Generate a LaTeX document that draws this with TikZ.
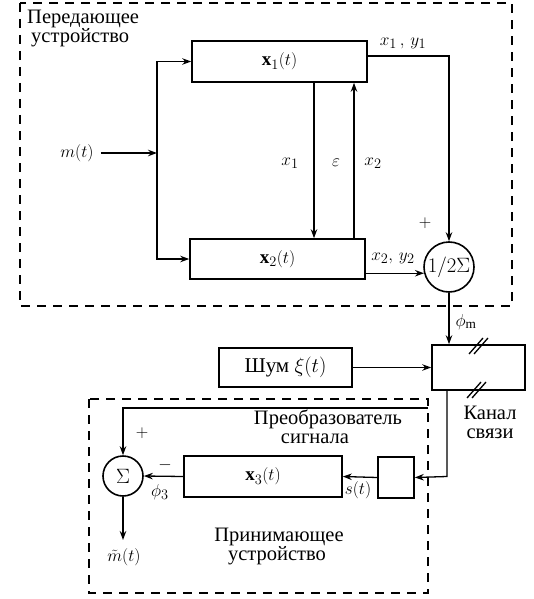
\documentclass[tikz,border=0pt]{standalone}
\usepackage{fontspec}
\setmainfont{Liberation Serif}
\usetikzlibrary{arrows.meta,calc}
\begin{document}
\begin{tikzpicture}[x=1pt,y=-1pt,
  every node/.style={font=\fontsize{19}{21}\selectfont},
  blk/.style={draw,line width=1.6pt,inner sep=0pt},
  circ/.style={draw,circle,line width=1.6pt,inner sep=0pt},
  arr/.style={line width=1.3pt,-{Stealth[length=9pt,width=6.5pt]}},
  ln/.style={line width=1.3pt},
  dashbox/.style={line width=1.2pt,dash pattern=on 9pt off 7pt},
  lbl/.style={inner sep=0pt},
  cyr/.style={inner sep=0pt,font=\fontsize{20.5}{21}\selectfont,text height=11pt,text depth=3pt}]
\useasboundingbox (0,0) rectangle (533,599);
% dashed frames
\draw[dashbox] (20,3) rectangle (512,306);
\draw[dashbox] (89,399) rectangle (428,593);
% blocks
\node[blk,minimum width=175pt,minimum height=41pt] (x1) at (279.5,61.5) {$\mathbf{x}_1(t)$};
\node[blk,minimum width=175pt,minimum height=40pt] (x2) at (277.5,259) {$\mathbf{x}_2(t)$};
\node[circ,minimum size=50pt,font=\fontsize{21}{21}\selectfont] (sum) at (449,267) {$1/2\Sigma$};
\node[blk,minimum width=93pt,minimum height=45pt] (chan) at (478.5,367.5) {};
\node[blk,minimum width=133pt,minimum height=39pt,font=\fontsize{21}{21}\selectfont] (noise) at (285.5,367.5) {Шум $\xi(t)$};
\node[circ,minimum size=40pt,font=\fontsize{21}{21}\selectfont] (sig) at (123,476) {$\Sigma$};
\node[blk,minimum width=158pt,minimum height=41pt] (x3) at (263,476.5) {$\mathbf{x}_3(t)$};
\node[blk,minimum width=36pt,minimum height=41pt] (small) at (396,477.5) {};
% texts
\node[cyr,anchor=base west] (t1) at (27,24) {Передающее};
\node[cyr,anchor=base west] (t2) at (31,43) {устройство};
\node[lbl] (mt) at (77,153) {$m(t)$};
\node[lbl] (lx1y1) at (403,43) {$x_1\,,\,y_1$};
\node[lbl] (lx1) at (290,163) {$x_1$};
\node[lbl] (leps) at (336,163) {$\varepsilon$};
\node[lbl] (lx2) at (373,163) {$x_2$};
\node[lbl] (lplus1) at (425,223) {$+$};
\node[lbl] (lx2y2) at (393,258) {$x_2,\,y_2$};
\node[lbl] (lphim) at (466,322) {$\phi_{\mathrm{m}}$};
\node[cyr,anchor=base] (lk1) at (490,419) {Канал};
\node[cyr,anchor=base] (lk2) at (490,438) {связи};
\node[cyr,anchor=base] (lp1) at (328,424) {Преобразователь};
\node[cyr,anchor=base] (lp2) at (315,443) {сигнала};
\node[lbl] (lplus2) at (142,433) {$+$};
\node[lbl] (lminus) at (165,465) {$-$};
\node[lbl] (lphi3) at (160,492) {$\phi_3$};
\node[lbl] (lst) at (358,490) {$s(t)$};
\node[lbl] (lmt) at (124,557) {$\tilde{m}(t)$};
\node[cyr,anchor=base] (lr1) at (279,541) {Принимающее};
\node[cyr,anchor=base] (lr2) at (277,560) {устройство};
% coordinates
\coordinate (split) at (157,153);
\coordinate (a1) at (314,0);
\coordinate (a2) at (354,0);
\coordinate (c2) at (447,476.5);
\coordinate (fb) at (428,408);
\coordinate (out) at (123,540);
% connectors
\draw[arr] (mt.east) ++(7,0) -- (split);
\draw[arr] (split) |- (x1.west);
\draw[arr] (split) |- (x2.west);
\draw[arr] (x1.south -| a1) -- (x2.north -| a1);
\draw[arr] (x2.north -| a2) -- (x1.south -| a2);
\draw[arr] ([yshift=5.5pt]x1.east) -| (sum.north);
\draw[arr] (x2.east |- sum.194) -- (sum.194);
\draw[arr] (sum.south) -- (sum.south |- chan.north);
\draw[arr] (noise.east) -- (chan.west);
\draw[arr] (chan.south -| c2) -- (c2) -- (small.east);
\draw[arr] (small.west) -- (x3.east);
\draw[arr] (x3.west) -- (sig.east);
\draw[arr] (fb) -| (sig.north);
\draw[arr] (sig.south) -- (out);
% channel slashes
\draw[ln] (469,354) -- (483,338);
\draw[ln] (474,354) -- (488,338);
\draw[ln] (467,398) -- (481,382);
\draw[ln] (472,398) -- (486,382);
\end{tikzpicture}
\end{document}
